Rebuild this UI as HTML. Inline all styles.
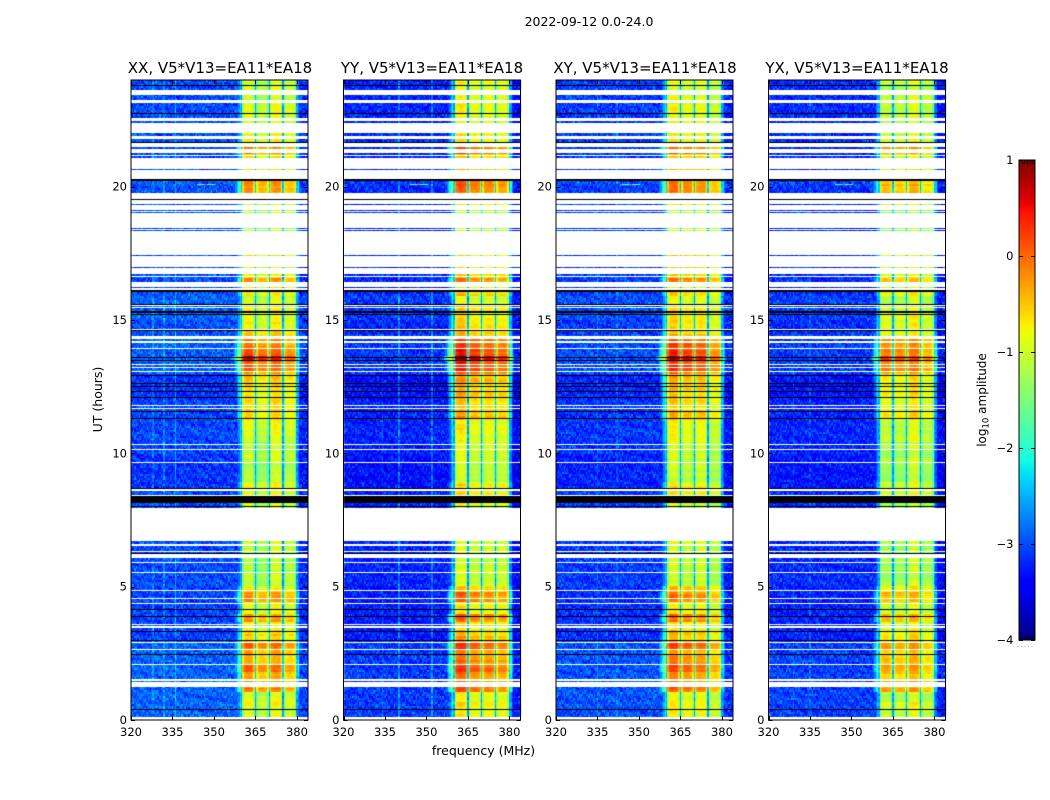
<!DOCTYPE html>
<html lang="en">
<head>
<meta charset="utf-8">
<title>2022-09-12 amplitude waterfall</title>
<style>
html,body{margin:0;padding:0;background:#fff;}
#figure{position:relative;width:1050px;height:800px;overflow:hidden;background:#fff;font-family:"DejaVu Sans","Liberation Sans",sans-serif;}
#figure canvas{position:absolute;display:block;}
#overlay{position:absolute;left:0;top:0;}
#overlay text{font-family:"DejaVu Sans","Liberation Sans",sans-serif;fill:#000;}
</style>
</head>
<body>
<div id="figure">
<canvas id="heat-0"></canvas>
<canvas id="heat-1"></canvas>
<canvas id="heat-2"></canvas>
<canvas id="heat-3"></canvas>
<canvas id="cbar"></canvas>
<svg id="overlay" width="1050" height="800" viewBox="0 0 1050 800">
<text x="589" y="26" text-anchor="middle" font-size="12.5">2022-09-12 0.0-24.0</text>
<text x="220" y="73" text-anchor="middle" font-size="15">XX, V5*V13=EA11*EA18</text>
<text x="432" y="73" text-anchor="middle" font-size="15">YY, V5*V13=EA11*EA18</text>
<text x="645" y="73" text-anchor="middle" font-size="15">XY, V5*V13=EA11*EA18</text>
<text x="857" y="73" text-anchor="middle" font-size="15">YX, V5*V13=EA11*EA18</text>
<text x="483.5" y="755" text-anchor="middle" font-size="12.5">frequency (MHz)</text>
<text x="0" y="0" transform="translate(102,399.5) rotate(-90)" text-anchor="middle" font-size="12.5">UT (hours)</text>
<text x="0" y="0" transform="translate(986,400) rotate(-90)" text-anchor="middle" font-size="12">log<tspan dy="2.5" font-size="8.5">10</tspan><tspan dy="-2.5"> amplitude</tspan></text>
<line x1="1017.5" y1="646.5" x2="1035" y2="646.5" stroke="#aaa" stroke-width="1" stroke-dasharray="1 2.5"/>
</svg>
</div>
<script>
/* ---------- chart data ---------- */
var panelNames = ['xx', 'yy', 'xy', 'yx'];
var panelBackground = [-3.05, -3.25, -3.13, -3.22];
var panelGain = [1.0, 1.12, 1.05, 0.92];
var panelSubbands = [
  [-1.05, -1.28, -0.95, -1.15],
  [-0.88, -1.08, -1.0, -1.02],
  [-0.92, -1.05, -0.98, -1.2],
  [-1.22, -1.28, -0.98, -1.25]
];
var xTickLabels = [320, 335, 350, 365, 380];
var yTickLabels = [0, 5, 10, 15, 20];
var colorbarTickLabels = [1, 0, -1, -2, -3, -4];

/* [UT start, band amplitude boost in dex] */
var bandBoost = [
  [0, 0.15], [0.55, 0.32], [0.7, 0.1], [1.05, 0.9], [1.42, 0.85], [1.5, 0.7], [1.8, 1.0],
  [2.1, 0.75], [2.44, 0.65], [2.66, 1.0], [2.93, 0.5], [3.38, 0.25], [3.68, 0.8], [4.0, 0.2],
  [4.39, 0.8], [4.8, 0.4], [5.03, -0.05], [6.1, -0.05], [6.5, 0.05], [7.96, 0.1], [8.4, 0.2],
  [8.7, 0.25], [8.89, -0.1], [9.64, 0.0], [10.39, 0.15], [11.25, 0.45], [11.33, 0.55],
  [11.59, 0.35], [12.11, 0.45], [12.56, 0.55], [12.94, 0.75], [13.05, 1.1], [13.39, 1.2],
  [13.5, 1.7], [13.62, 1.15], [13.95, 1.0], [14.25, 0.9], [14.3, 0.5], [14.41, 0.45],
  [14.66, 0.3], [15.5, 0.35], [15.6, 0.05], [15.87, 0.4], [16.1, 0.2], [16.4, 0.75], [16.6, 0.3],
  [17.0, 0.1], [17.4, 0.35], [18.3, -0.1], [19.1, 0.05], [19.3, 0.15], [19.55, 0.1], [19.75, 0.8],
  [20.3, 0.8], [20.66, 0.5], [21.07, 0.3], [21.2, 0.9], [21.43, 0.9], [21.66, 0.3], [21.9, 0.2],
  [22.4, 0.05], [22.6, 0.15], [23.2, 0.1], [23.65, 0.05], [23.8, 0.1]
];
/* [UT start, background offset in dex] */
var backgroundDrift = [
  [0, 0.14], [3.0, -0.03], [5.0, 0.02], [8.7, -0.1], [10.0, 0.0], [12.0, -0.1], [13.0, 0.12],
  [14.5, 0.02], [15.0, 0.12], [16.0, 0.03], [20.0, 0.12], [20.6, 0.02]
];
var subbandGain = [1.05, 1.0, 0.85, 0.75];
/* dex offset by channel within a 5 MHz subband; first entry is the subband notch */
var channelShape = [-1, -0.42, -0.06, 0, 0.04, 0.05, 0.04, 0.01, -0.05, -0.42];

/* flagged intervals [UT from, UT to] */
var flaggedGaps = [
  [0, 0.1], [1.25, 1.41], [1.46, 1.54], [2.07, 2.1], [2.63, 2.66], [2.91, 2.94],
  [3.44, 3.47], [3.5, 3.53], [3.57, 3.6], [4.35, 4.38], [4.55, 4.58], [4.85, 4.88],
  [5.53, 5.55], [5.89, 5.91], [6.08, 6.24], [6.3, 6.32], [6.54, 6.6], [6.72, 7.96],
  [8.41, 8.44], [8.6, 8.66], [9.65, 9.68], [10.14, 10.17], [10.3, 10.35],
  [11.68, 11.71], [11.77, 11.8], [13.05, 13.08], [13.21, 13.24], [13.31, 13.34],
  [13.91, 13.95], [14.15, 14.2], [14.3, 14.41], [14.63, 14.67], [15.45, 15.49], [15.54, 15.58],
  [16.14, 16.2], [16.25, 16.44], [16.61, 16.66], [16.74, 16.94], [17.0, 17.4], [17.45, 18.32],
  [18.36, 18.4], [18.46, 19.02], [19.05, 19.09], [19.14, 19.31], [19.36, 19.51], [19.54, 19.77],
  [20.29, 20.63], [20.68, 21.06], [21.15, 21.17], [21.26, 21.41], [21.49, 21.64], [21.79, 21.9],
  [22.01, 22.39], [22.48, 22.52], [22.56, 22.59], [23.14, 23.18], [23.19, 23.25], [23.44, 23.63]
];
/* zero-amplitude intervals, drawn black */
var zeroedRows = [
  [0.39, 0.42], [2.43, 2.46], [2.97, 3.0], [3.29, 3.32], [3.88, 3.91], [4.14, 4.17], [6.25, 6.28],
  [7.98, 8.01], [8.15, 8.4], [8.68, 8.71], [11.3, 11.33], [11.57, 11.6], [12.08, 12.11],
  [12.29, 12.32], [12.5, 12.53], [12.62, 12.65], [12.92, 12.95], [13.46, 13.49], [13.57, 13.6],
  [14.59, 14.62], [15.18, 15.24], [15.28, 15.34], [15.56, 15.59], [16.07, 16.09], [16.11, 16.13],
  [19.52, 19.55], [20.23, 20.29], [21.66, 21.69], [22.74, 22.77], [23.78, 23.81]
];
/* faint interference columns per panel: [MHz, dex added] */
var interferenceColumns = [
  [[328, 0.25], [332, 0.3], [336, 0.5]],
  [[340, 0.45], [352, 0.45], [334, 0.2]],
  [[335, 0.25], [342, 0.2]],
  [[335, 0.2], [329, 0.2]]
];
/* narrow spur: [MHz from, MHz to, UT, log amplitude] */
var narrowSpurs = [[344, 350.5, 20.1, -1.7], [346.5, 347.5, 20.1, 0.1]];
/* hand-entered fine grain of the background, in units of spread */
var grain = [
  0.31, -0.72, 0.58, -0.12, 0.94, -0.45, 0.07, -0.88, 0.42, 0.19, -0.33, 0.76, -0.61, 0.03, 0.52,
  -0.97, 0.27, 0.66, -0.24, -0.54, 0.85, -0.08, 0.38, -0.79, 0.12, 0.61, -0.41, 1.0, -0.17, -0.67,
  0.47, 0.22, -0.92, 0.71, -0.29, 0.09, -0.5, 0.33, 0.89, -0.74, -0.04, 0.56, -0.36, 0.16, -0.83,
  0.78, -0.21, 0.44, -0.59, 0.25, 0.98, -0.47, -0.14, 0.64, -0.7, 0.36, 0.05, -0.26, 0.81, -0.63, 0.14
];
/* matplotlib jet anchors */
var jetRed = [[0, 0], [0.35, 0], [0.66, 1], [0.89, 1], [1, 0.5]];
var jetGreen = [[0, 0], [0.125, 0], [0.375, 1], [0.64, 1], [0.91, 0], [1, 0]];
var jetBlue = [[0, 0.5], [0.11, 1], [0.34, 1], [0.65, 0], [1, 0]];

/* ---------- scales ---------- */
var AXIS_TOP = 80, AXIS_HEIGHT = 640, AXIS_WIDTH = 177;
var CHANNEL_MHZ = 0.5, ROW_HOURS = 0.075, FIRST_EDGE = 319.75;
var CB_LEFT = 1019, CB_RIGHT = 1035, CB_TOP = 160, CB_BOTTOM = 640;
function panelLeft(i) { return 131 + i * 212.5; }
function xScale(i, mhz) { return panelLeft(i) + (mhz - 320) * AXIS_WIDTH / 64; }
function yScale(ut) { return AXIS_TOP + AXIS_HEIGHT - ut * AXIS_HEIGHT / 24; }
function cbScale(level) { return CB_TOP + (1 - level) * (CB_BOTTOM - CB_TOP) / 5; }

function interp(table, t) {
  for (var k = 1; k < table.length; k++) {
    if (t <= table[k][0]) {
      var a = table[k - 1], b = table[k];
      return a[1] + (b[1] - a[1]) * (t - a[0]) / (b[0] - a[0]);
    }
  }
  return table[table.length - 1][1];
}
function jetColor(level) {
  var t = Math.max(0, Math.min(1, (level + 4) / 5));
  return 'rgb(' + Math.round(interp(jetRed, t) * 255) + ',' + Math.round(interp(jetGreen, t) * 255) + ',' + Math.round(interp(jetBlue, t) * 255) + ')';
}
function stepLookup(table, ut) {
  var v = table[0][1];
  for (var k = 0; k < table.length; k++) { if (ut >= table[k][0]) v = table[k][1]; else break; }
  return v;
}
function grainAt(c, r, p) {
  var n = grain.length;
  return 0.65 * grain[(c * 17 + r * 31 + p * 5) % n] + 0.65 * grain[(c * c + r * 7 + p * 11 + (c * r) % 13) % n];
}

function cellLevel(p, c, r) {
  var mhz = FIRST_EDGE + (c + 0.5) * CHANNEL_MHZ, ut = (r + 0.5) * ROW_HOURS;
  var g = grainAt(c, r, p);
  var rowJitter = grain[(r * 3 + p * 19) % grain.length] * 0.12;
  var boost = stepLookup(bandBoost, ut) * panelGain[p];
  var bg = panelBackground[p] + stepLookup(backgroundDrift, ut) + g * 0.38;
  if (mhz > 380) bg -= 0.15;
  var cols = interferenceColumns[p];
  for (var q = 0; q < cols.length; q++) {
    if (Math.abs(mhz - cols[q][0]) < CHANNEL_MHZ * 0.5) bg += cols[q][1];
  }
  if (mhz >= 360 && mhz <= 380) {
    var idx = Math.round((mhz - 360) / CHANNEL_MHZ);
    var s = channelShape[idx % 10];
    if (s <= -1) return Math.max(bg, -2.6 + boost * 0.25 + g * 0.2);
    var sb = Math.floor(idx / 10);
    return panelSubbands[p][sb] + s + boost * subbandGain[sb] + g * 0.08 + rowJitter;
  }
  var v;
  if (mhz < 360) v = panelSubbands[p][0] + boost * subbandGain[0] - 1.1 - (360 - mhz) * 0.7 + g * 0.12;
  else v = panelSubbands[p][3] + boost * subbandGain[3] - 1.1 - (mhz - 380) * 1.2 + g * 0.12;
  return Math.max(bg, v);
}

/* ---------- heatmaps ---------- */
panelNames.forEach(function (name, p) {
  var cv = document.getElementById('heat-' + p);
  var ox = Math.floor(panelLeft(p));
  cv.width = AXIS_WIDTH + 2;
  cv.height = AXIS_HEIGHT + 2;
  cv.style.left = ox + 'px';
  cv.style.top = AXIS_TOP + 'px';
  var ctx = cv.getContext('2d');
  var channels = Math.round(64 / CHANNEL_MHZ) + 1, rows = Math.round(24 / ROW_HOURS);
  var xEnd = Math.round(xScale(p, 384)) - ox, xStart = Math.round(xScale(p, 320)) - ox;
  for (var r = 0; r < rows; r++) {
    var y0 = Math.round(yScale((r + 1) * ROW_HOURS)) - AXIS_TOP;
    var y1 = Math.round(yScale(r * ROW_HOURS)) - AXIS_TOP;
    for (var c = 0; c < channels; c++) {
      var x0 = Math.max(xStart, Math.round(xScale(p, FIRST_EDGE + c * CHANNEL_MHZ)) - ox);
      var x1 = Math.min(xEnd, Math.round(xScale(p, FIRST_EDGE + (c + 1) * CHANNEL_MHZ)) - ox);
      ctx.fillStyle = jetColor(cellLevel(p, c, r));
      ctx.fillRect(x0, y0, x1 - x0, y1 - y0);
    }
  }
  var left = xStart, width = xEnd - xStart;
  narrowSpurs.forEach(function (sp) {
    var yy = Math.round(yScale(sp[2])) - AXIS_TOP;
    var sx0 = Math.round(xScale(p, sp[0])) - ox, sx1 = Math.round(xScale(p, sp[1])) - ox;
    ctx.fillStyle = jetColor(sp[3]);
    ctx.fillRect(sx0, yy, sx1 - sx0, 1);
  });
  function band(list, colour) {
    list.forEach(function (b) {
      var a0 = Math.round(yScale(b[1])) - AXIS_TOP;
      var a1 = Math.round(yScale(b[0])) - AXIS_TOP;
      ctx.fillStyle = colour;
      ctx.fillRect(left, a0, width, Math.max(1, a1 - a0));
    });
  }
  band(flaggedGaps, '#fff');
  band(zeroedRows, '#000');
});

/* ---------- colorbar ---------- */
(function () {
  var cv = document.getElementById('cbar');
  cv.width = CB_RIGHT - CB_LEFT;
  cv.height = CB_BOTTOM - CB_TOP;
  cv.style.left = CB_LEFT + 'px';
  cv.style.top = CB_TOP + 'px';
  var ctx = cv.getContext('2d');
  for (var py = 0; py < cv.height; py++) {
    ctx.fillStyle = jetColor(1 - (py + 0.5) * 5 / cv.height);
    ctx.fillRect(0, py, cv.width, 1);
  }
})();

/* ---------- axes ---------- */
var NS = 'http://www.w3.org/2000/svg';
var overlay = document.getElementById('overlay');
function makeSvg(tag, attrs) {
  var el = document.createElementNS(NS, tag);
  for (var k in attrs) el.setAttribute(k, attrs[k]);
  overlay.appendChild(el);
  return el;
}
function tickMark(x1, y1, x2, y2) {
  var el = makeSvg('line', { x1: x1, y1: y1, x2: x2, y2: y2, stroke: '#000', 'stroke-width': 1 });
  
  
  return el;
}
panelNames.forEach(function (name, p) {
  var left = panelLeft(p), right = left + AXIS_WIDTH, bottom = AXIS_TOP + AXIS_HEIGHT;
  var frame = makeSvg('rect', { x: left, y: AXIS_TOP, width: AXIS_WIDTH, height: AXIS_HEIGHT, fill: 'none', stroke: '#000', 'stroke-width': 1 });
  
  
  xTickLabels.forEach(function (v) {
    var x = Math.round(xScale(p, v)) + 0.5;
    tickMark(x, bottom, x, bottom - 4);
    tickMark(x, AXIS_TOP, x, AXIS_TOP + 4);
    var t = makeSvg('text', { x: xScale(p, v), y: 736, 'text-anchor': 'middle', 'font-size': 11.5 });
    t.textContent = String(v);
    
    
  });
  yTickLabels.forEach(function (v) {
    var y = Math.round(yScale(v)) + 0.5;
    tickMark(left, y, left + 4, y);
    tickMark(right, y, right - 4, y);
    var t = makeSvg('text', { x: left - 4, y: yScale(v) + 4, 'text-anchor': 'end', 'font-size': 11.5 });
    t.textContent = String(v);
    
    
  });
});
var cbFrame = makeSvg('rect', { x: CB_LEFT, y: CB_TOP, width: CB_RIGHT - CB_LEFT, height: CB_BOTTOM - CB_TOP, fill: 'none', stroke: '#000', 'stroke-width': 1 });


colorbarTickLabels.forEach(function (v) {
  var y = Math.round(cbScale(v)) + 0.5;
  tickMark(CB_LEFT, y, CB_LEFT + 4, y);
  tickMark(CB_RIGHT, y, CB_RIGHT - 4, y);
  var t = makeSvg('text', { x: CB_LEFT - 5.5, y: cbScale(v) + 4, 'text-anchor': 'end', 'font-size': 11.5 });
  t.textContent = String(v).replace('-', '\u2212');
  
  
});
[1, 2, 3, 4, 5].forEach(function (n) {
  var x = Math.round(CB_LEFT + n * (CB_RIGHT - CB_LEFT) / 6) + 0.5;
  tickMark(x, CB_TOP, x, CB_TOP + 4);
  tickMark(x, CB_BOTTOM, x, CB_BOTTOM - 4);
});
</script>
</body>
</html>
